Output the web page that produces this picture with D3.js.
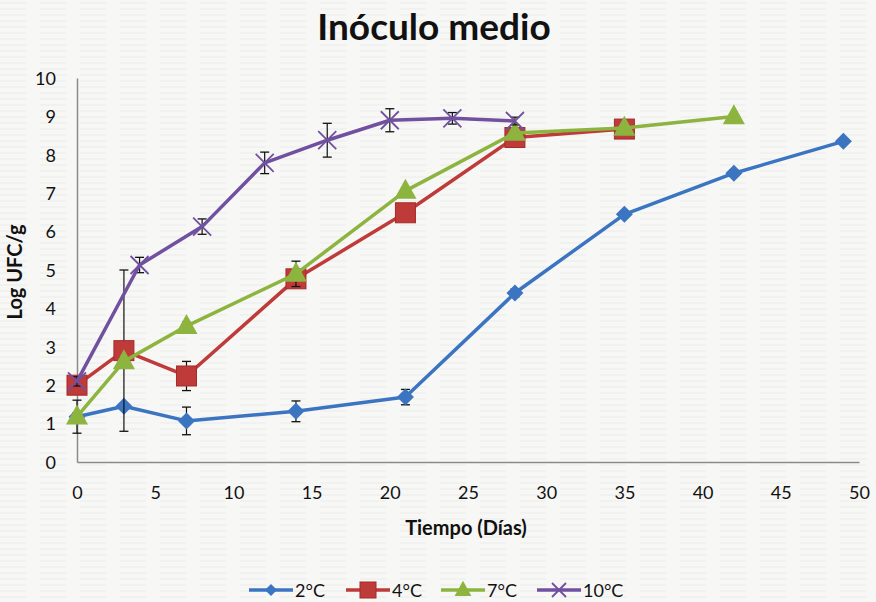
<!DOCTYPE html>
<html><head><meta charset="utf-8">
<script src="https://cdn.jsdelivr.net/npm/d3@7"></script>
<style>body{margin:0;background:#f6f6f4}svg{display:block}</style>
</head><body>
<script>
const seriesNames = ["2°C","4°C","7°C","10°C"];
const days2 = [0,3,7,14,21,28,35,42,49];
const vals2 = [1.18,1.45,1.07,1.32,1.69,4.40,6.45,7.52,8.35];
const err2  = [0.43,0,0.36,0.27,0.2,0.1,0.08,0.08,0];
const days4 = [0,3,7,14,21,28,35];
const vals4 = [2.0,2.9,2.24,4.77,6.49,8.45,8.67];
const err4  = [0.1,2.1,0.38,0.1,0.05,0.25,0.05];
const days7 = [0,3,7,14,21,28,35,42];
const vals7 = [1.18,2.62,3.54,4.9,7.06,8.57,8.7,9.0];
const err7  = [0.1,0.1,0.1,0.33,0.05,0.1,0.05,0.05];
const days10 = [0,4,8,12,16,20,24,28];
const vals10 = [2.1,5.13,6.13,7.79,8.38,8.9,8.95,8.88];
const err10  = [0.12,0.2,0.2,0.28,0.44,0.3,0.15,0.1];
const xTicks = [0,5,10,15,20,25,30,35,40,45,50];
const yTicks = [0,1,2,3,4,5,6,7,8,9,10];

const colors = ["#3b75c2","#be3b39","#8cb43f","#7150a0"];
const W=876,H=602;
const svg=d3.select("body").append("svg").attr("width",W).attr("height",H);
const defs=svg.append("defs");
const pat=defs.append("pattern").attr("id","paper").attr("width",40).attr("height",6).attr("patternUnits","userSpaceOnUse");
pat.append("rect").attr("width",40).attr("height",6).attr("fill","#f7f7f5");
pat.append("line").attr("x1",0).attr("x2",26).attr("y1",3).attr("y2",3).attr("stroke","#ececea").attr("stroke-width",1);
svg.append("rect").attr("width",W).attr("height",H).attr("fill","url(#paper)");

const x=d3.scaleLinear().domain([0,50]).range([77,859]);
const y=d3.scaleLinear().domain([0,10]).range([462,78]);

const font="Lato, 'Open Sans', sans-serif";
svg.append("text").attr("x",434).attr("y",40).attr("text-anchor","middle")
  .attr("font-family",font).attr("font-weight","bold").attr("font-size",37).attr("fill","#111").text("Inóculo medio");

const gx=svg.append("g").attr("transform","translate(0,462)")
  .call(d3.axisBottom(x).tickValues(xTicks).tickSize(0).tickPadding(24).tickFormat(d3.format("d")));
const gy=svg.append("g").attr("transform","translate(77,0)")
  .call(d3.axisLeft(y).tickValues(yTicks).tickSize(0).tickPadding(21).tickFormat(d3.format("d")));
[gx,gy].forEach(g=>{
  g.select(".domain").attr("stroke","#8a8a8a").attr("stroke-width",1.5);
  g.selectAll("text").attr("font-family",font).attr("font-size",18).attr("fill","#111");
});
gy.selectAll("text").attr("dy","0.35em");

svg.append("text").attr("x",466).attr("y",535).attr("text-anchor","middle")
  .attr("font-family",font).attr("font-weight","bold").attr("font-size",20).attr("fill","#111").text("Tiempo (Días)");
svg.append("text").attr("transform","translate(22,272) rotate(-90)").attr("text-anchor","middle")
  .attr("font-family",font).attr("font-weight","bold").attr("font-size",20).attr("fill","#111").text("Log UFC/g");

const series=[
  {days:days2,vals:vals2,err:err2,sym:"diamond"},
  {days:days4,vals:vals4,err:err4,sym:"square"},
  {days:days7,vals:vals7,err:err7,sym:"triangle"},
  {days:days10,vals:vals10,err:err10,sym:"x"}
];

function marker(g,sym,cx,cy,c,s){
  if(sym==="diamond"){
    g.append("path").attr("d",`M${cx},${cy-s}L${cx+s},${cy}L${cx},${cy+s}L${cx-s},${cy}Z`).attr("fill",c);
  } else if(sym==="square"){
    g.append("rect").attr("x",cx-s).attr("y",cy-s).attr("width",2*s).attr("height",2*s).attr("fill",c).attr("stroke","#a52b2a").attr("stroke-width",1);
  } else if(sym==="triangle"){
    g.append("path").attr("d",`M${cx},${cy-s*1.15}L${cx+s*1.05},${cy+s*0.75}L${cx-s*1.05},${cy+s*0.75}Z`).attr("fill",c);
  } else {
    g.append("path").attr("d",`M${cx-s},${cy-s}L${cx+s},${cy+s}M${cx-s},${cy+s}L${cx+s},${cy-s}`).attr("stroke",c).attr("stroke-width",1.8).attr("fill","none");
  }
}
const sizes=[8.5,10,10.5,9];
series.forEach((s,i)=>{
  const g=svg.append("g");
  const pts=s.days.map((d,j)=>[d,s.vals[j],s.err[j]]);
  pts.forEach(p=>{
    if(p[2]<=0) return;
    const xx=x(p[0]), y1=y(p[1]+p[2]), y2=y(p[1]-p[2]);
    g.append("line").attr("x1",xx).attr("x2",xx).attr("y1",y1).attr("y2",y2).attr("stroke","#111").attr("stroke-width",1.2);
    [y1,y2].forEach(yy=>g.append("line").attr("x1",xx-4.5).attr("x2",xx+4.5).attr("y1",yy).attr("y2",yy).attr("stroke","#111").attr("stroke-width",1.3));
  });
  g.append("path").datum(pts).attr("fill","none").attr("stroke",colors[i]).attr("stroke-width",3.5)
    .attr("stroke-linejoin","round")
    .attr("d",d3.line().x(p=>x(p[0])).y(p=>y(p[1])));
  pts.forEach(p=>marker(g,s.sym,x(p[0]),y(p[1]),colors[i],sizes[i]));
});

const legX=[249,346,441,537];
seriesNames.forEach((n,i)=>{
  const g=svg.append("g");
  const ly=590;
  g.append("line").attr("x1",legX[i]).attr("x2",legX[i]+44).attr("y1",ly).attr("y2",ly).attr("stroke",colors[i]).attr("stroke-width",3.5);
  marker(g,series[i].sym,legX[i]+22,ly,colors[i],[6,8,8,7][i]);
  g.append("text").attr("x",legX[i]+46).attr("y",ly+6.5).attr("font-family",font).attr("font-size",18).attr("fill","#111").text(n);
});
</script>
</body></html>
